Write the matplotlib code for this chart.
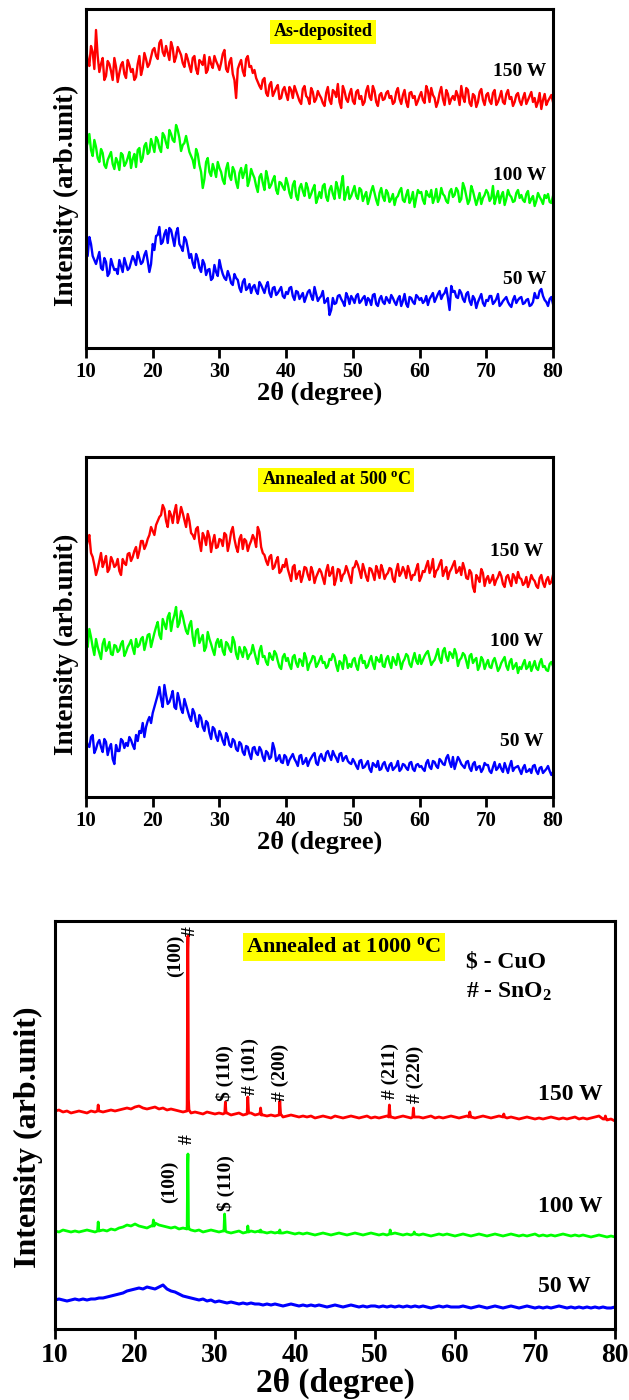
import numpy as np
import matplotlib
matplotlib.use('Agg')
import matplotlib.pyplot as plt

plt.rcParams['font.family'] = ['Liberation Serif', 'DejaVu Serif']
plt.rcParams['font.weight'] = 'bold'
plt.rcParams['mathtext.fontset'] = 'custom'
plt.rcParams['mathtext.rm'] = 'Liberation Serif:bold'
plt.rcParams['mathtext.bf'] = 'Liberation Serif:bold'
plt.rcParams['mathtext.it'] = 'Liberation Serif:bold:italic'

# ---------------- data ----------------
two_theta = np.arange(10, 80.01, 0.5)        # 10.0, 10.5, ... 80.0
two_theta_half = np.arange(10.25, 79.8, 0.5)  # 10.25, 10.75, ... 79.75
series_names = ['150 W', '100 W', '50 W']
series_colors = ['#ff0000', '#00ff00', '#0000ff']
xticks = [10, 20, 30, 40, 50, 60, 70, 80]

# As-deposited (arb. units)
asdep_150 = [300, 282, 296, 318, 276, 290, 272, 284, 268, 281, 275, 286, 270, 283, 279, 271, 292, 280, 289, 284, 298,
             292, 305, 296, 302, 288, 300, 291, 297, 285, 294,
             282, 290, 279, 288, 283, 275, 291, 280, 287, 278,
             294, 279, 286, 274, 250, 284, 277, 289, 281, 275,
             270, 262, 268, 255, 263, 252, 260, 249, 258, 254,
             261, 250, 257, 247, 259, 252, 244, 256, 249, 253,
             245, 255, 248, 258, 251, 246, 262, 249, 254, 247,
             256, 249, 243, 257, 251, 262, 246, 253, 248, 255,
             250, 244, 256, 249, 253, 246, 255, 250, 243, 252,
             248, 262, 246, 253, 241, 255, 249, 258, 244, 252,
             257, 243, 251, 260, 245, 254, 241, 256, 248, 253,
             247, 255, 243, 251, 246, 254, 249, 242, 253, 247,
             250, 244, 252, 246, 241, 255, 248, 243, 250, 246]
asdep_150_h = [288, 302, 279, 292, 284, 268, 287, 277, 290, 266, 283, 274, 288, 276, 268, 284, 273, 295, 281, 291,
               300, 289, 308, 292, 295, 306, 286, 301, 293, 281,
               289, 276, 292, 274, 286, 293, 278, 284, 292, 283,
               285, 298, 276, 290, 268, 279, 288, 272, 292, 282,
               278, 266, 259, 270, 252, 266, 256, 263, 250, 261,
               248, 258, 262, 252, 244, 262, 250, 260, 246, 257,
               250, 242, 261, 244, 256, 264, 240, 257, 246, 259,
               244, 258, 252, 246, 262, 248, 257, 242, 255, 249,
               257, 252, 246, 260, 244, 258, 241, 256, 252, 247,
               256, 245, 257, 260, 250, 246, 261, 243, 254, 249,
               248, 252, 262, 246, 258, 242, 252, 246, 259, 243,
               255, 244, 258, 246, 257, 244, 258, 251, 246, 255,
               243, 255, 248, 256, 250, 246, 239, 254, 247, 253]
asdep_100 = [200, 214, 192, 201, 186, 195, 180, 192, 184, 190, 178, 193, 185, 196, 189, 181, 200, 190, 205, 196, 203,
             211, 200, 215, 205, 218, 208, 223, 210, 203, 212,
             196, 188, 199, 183, 160, 186, 176, 184, 171, 180,
             168, 179, 172, 181, 166, 175, 170, 183, 168, 174,
             162, 171, 165, 177, 160, 168, 158, 166, 161, 170,
             155, 163, 152, 160, 157, 165, 150, 159, 145, 156,
             162, 151, 158, 154, 166, 150, 172, 155, 149, 157,
             152, 160, 147, 156, 150, 162, 148, 155, 151, 158,
             146, 154, 150, 157, 148, 153, 145, 156, 150, 155,
             148, 157, 151, 145, 159, 150, 154, 147, 156, 151,
             160, 146, 165, 152, 148, 157, 143, 155, 150, 158,
             147, 162, 151, 145, 156, 149, 153, 146, 155, 150,
             148, 154, 145, 152, 147, 151, 144, 150, 146, 152]
asdep_100_h = [205, 198, 208, 190, 199, 183, 188, 196, 179, 186, 195, 182, 190, 180, 194, 198, 186, 202, 194, 209,
               196, 208, 196, 212, 200, 214, 206, 218, 197, 205,
               204, 192, 180, 194, 176, 169, 190, 172, 178, 186,
               176, 164, 185, 168, 177, 160, 180, 176, 162, 179,
               170, 156, 174, 158, 170, 163, 172, 154, 165, 158,
               164, 150, 167, 148, 164, 152, 160, 154, 163, 150,
               150, 164, 147, 162, 149, 160, 163, 148, 161, 152,
               162, 149, 158, 152, 144, 157, 155, 143, 160, 147,
               155, 149, 143, 152, 160, 146, 158, 149, 141, 158,
               156, 144, 153, 158, 150, 146, 160, 152, 145, 159,
               153, 157, 149, 160, 144, 162, 150, 149, 144, 153,
               155, 150, 144, 157, 152, 143, 158, 151, 147, 158,
               153, 146, 157, 149, 142, 155, 148, 153, 154, 145]
asdep_50 = [100, 111, 92, 84, 96, 78, 86, 75, 83, 79, 88, 76, 84, 80, 92, 83, 90, 86, 97, 76, 104,
            112, 121, 106, 118, 120, 110, 115, 104, 97, 108,
            90, 85, 94, 80, 88, 73, 79, 70, 76, 88,
            74, 68, 72, 63, 70, 60, 66, 58, 64, 61,
            57, 66, 59, 62, 55, 60, 53, 58, 52, 56,
            60, 52, 57, 49, 55, 51, 58, 48, 54, 50,
            57, 47, 33, 50, 45, 53, 46, 55, 44, 49,
            52, 45, 50, 43, 48, 53, 44, 49, 46, 51,
            45, 50, 43, 52, 47, 44, 51, 46, 53, 48,
            45, 52, 49, 55, 50, 57, 53, 60, 38, 56,
            51, 58, 49, 54, 47, 52, 40, 50, 45, 48,
            52, 44, 49, 42, 47, 51, 43, 48, 45, 50,
            44, 48, 42, 46, 50, 57, 52, 46, 49, 44]
asdep_50_h = [92, 104, 88, 90, 80, 90, 72, 89, 78, 74, 82, 90, 78, 86, 88, 96, 84, 93, 87, 84,
              98, 113, 104, 114, 105, 118, 102, 120, 101, 111,
              100, 94, 80, 89, 76, 84, 78, 68, 83, 72,
              80, 70, 77, 65, 74, 68, 56, 69, 60, 55,
              63, 54, 63, 55, 66, 51, 61, 55, 61, 50,
              54, 61, 48, 56, 52, 46, 56, 52, 61, 47,
              52, 45, 50, 38, 44, 52, 49, 42, 51, 52,
              45, 54, 47, 52, 50, 43, 54, 42, 52, 44,
              48, 53, 46, 49, 42, 54, 41, 50, 44, 51,
              50, 47, 43, 52, 46, 54, 49, 55, 50, 62,
              57, 50, 55, 46, 56, 43, 49, 46, 54, 42,
              47, 52, 46, 54, 44, 49, 46, 41, 52, 48,
              51, 45, 49, 43, 55, 50, 59, 48, 42, 51]

# Annealed at 500 C
ann500_150 = [248, 262, 240, 222, 236, 230, 241, 228, 236, 232, 226, 238, 232, 244, 240, 250, 246, 256, 252, 262, 266,
              272, 280, 292, 276, 286, 274, 292, 280, 284, 270,
              276, 262, 268, 255, 264, 252, 260, 255, 249, 258,
              251, 262, 254, 270, 250, 258, 248, 256, 252, 262,
              250, 265, 244, 236, 240, 228, 236, 224, 232, 238,
              222, 230, 218, 226, 221, 229, 217, 225, 220, 228,
              219, 226, 221, 230, 218, 227, 222, 231, 220, 229,
              236, 226, 233, 220, 229, 223, 231, 219, 227, 222,
              229, 218, 226, 221, 230, 219, 225, 222, 228, 216,
              226, 231, 224, 238, 226, 233, 221, 230, 225, 232,
              224, 230, 234, 219, 227, 210, 222, 215, 224, 218,
              214, 222, 217, 225, 213, 220, 216, 223, 214, 219,
              212, 220, 215, 218, 211, 219, 214, 217, 213, 222]
ann500_150_h = [256, 244, 232, 228, 244, 235, 225, 240, 230, 238, 222, 234, 243, 236, 246, 239, 256, 248, 258, 270,
                262, 276, 282, 288, 270, 282, 285, 274, 290, 277,
                283, 264, 258, 270, 246, 260, 266, 245, 262, 250,
                257, 264, 246, 265, 258, 245, 262, 258, 246, 256,
                258, 270, 250, 242, 232, 242, 230, 240, 226, 230,
                228, 216, 232, 223, 215, 230, 222, 230, 214, 224,
                225, 213, 232, 224, 212, 228, 216, 224, 226, 214,
                230, 232, 219, 227, 216, 228, 217, 226, 232, 218,
                224, 228, 215, 233, 224, 226, 231, 217, 222, 233,
                220, 225, 236, 229, 220, 228, 237, 226, 218, 228,
                236, 226, 222, 228, 218, 224, 205, 219, 228, 211,
                221, 217, 212, 220, 221, 210, 222, 211, 220, 225,
                218, 214, 210, 222, 216, 209, 222, 210, 220, 215]
ann500_100 = [156, 168, 150, 158, 144, 153, 146, 155, 142, 151, 147, 156, 145, 153, 149, 158, 152, 160, 154, 163, 157,
              170, 162, 178, 168, 184, 176, 190, 174, 181, 166,
              172, 160, 166, 154, 162, 150, 158, 147, 154, 150,
              146, 155, 148, 160, 143, 150, 140, 147, 142, 152,
              138, 146, 140, 135, 144, 137, 143, 130, 140, 136,
              132, 140, 134, 138, 131, 139, 133, 141, 130, 137,
              134, 129, 138, 143, 132, 136, 128, 139, 133, 137,
              131, 138, 134, 129, 137, 133, 140, 135, 131, 138,
              134, 140, 132, 137, 135, 143, 133, 138, 136, 142,
              137, 144, 139, 135, 142, 138, 146, 140, 145, 139,
              143, 137, 144, 136, 141, 134, 139, 131, 137, 133,
              130, 136, 133, 129, 137, 131, 135, 128, 134, 130,
              133, 128, 135, 131, 129, 134, 130, 127, 133, 131]
ann500_100_h = [150, 160, 142, 150, 138, 158, 149, 143, 152, 145, 153, 141, 150, 157, 143, 150, 158, 147, 162, 150,
                164, 175, 158, 173, 180, 166, 182, 170, 186, 173,
                163, 176, 151, 168, 158, 146, 165, 153, 142, 158,
                157, 142, 153, 145, 155, 138, 145, 150, 138, 144,
                145, 133, 151, 141, 132, 140, 146, 136, 128, 143,
                139, 128, 142, 130, 136, 144, 127, 136, 140, 133,
                141, 135, 131, 137, 140, 126, 134, 142, 129, 130,
                139, 127, 142, 136, 131, 141, 128, 137, 142, 130,
                141, 129, 136, 143, 128, 138, 141, 130, 144, 133,
                133, 141, 146, 132, 137, 148, 134, 149, 136, 143,
                148, 131, 139, 142, 129, 143, 137, 127, 140, 128,
                137, 129, 139, 126, 134, 140, 127, 138, 131, 124,
                128, 137, 130, 126, 136, 127, 138, 131, 126, 135]
ann500_50 = [58, 50, 62, 48, 57, 45, 55, 49, 38, 52, 46, 56, 54, 60, 52, 62, 66, 74, 70, 80, 84,
             96, 110, 90, 102, 95, 106, 88, 97, 84, 92,
             80, 88, 74, 82, 70, 76, 64, 70, 60, 66,
             56, 64, 52, 58, 48, 55, 45, 51, 43, 49,
             44, 50, 40, 46, 38, 54, 36, 42, 34, 40,
             37, 43, 35, 41, 33, 39, 36, 42, 34, 40,
             38, 44, 41, 46, 39, 43, 36, 41, 34, 38,
             31, 36, 29, 33, 28, 34, 30, 27, 33, 29,
             32, 27, 31, 26, 33, 29, 34, 28, 32, 30,
             28, 34, 30, 36, 31, 38, 33, 39, 35, 40,
             34, 37, 31, 35, 29, 33, 27, 31, 28, 32,
             26, 30, 27, 33, 25, 29, 31, 26, 30, 27,
             29, 25, 28, 31, 26, 29, 24, 28, 26, 25]
ann500_50_h = [52, 60, 44, 54, 50, 58, 42, 53, 33, 46, 58, 49, 51, 57, 48, 56, 64, 60, 76, 74,
               90, 102, 98, 112, 93, 100, 90, 104, 88, 98,
               86, 76, 84, 70, 79, 66, 74, 58, 68, 56,
               62, 52, 60, 50, 56, 46, 53, 42, 50, 38,
               50, 42, 47, 36, 44, 40, 48, 38, 35, 42,
               32, 40, 38, 31, 42, 35, 31, 39, 44, 32,
               43, 36, 46, 37, 42, 35, 44, 39, 36, 33,
               35, 28, 37, 30, 36, 25, 32, 36, 28, 35,
               26, 34, 29, 36, 28, 32, 27, 35, 26, 33,
               31, 26, 37, 28, 35, 29, 36, 32, 42, 30,
               28, 40, 33, 29, 36, 26, 35, 30, 25, 34,
               32, 24, 35, 29, 28, 34, 24, 36, 29, 31,
               23, 32, 26, 24, 32, 23, 30, 26, 31, 22]

# Annealed at 1000 C: background on the grid + sharp peak points
ann1000_150_bg = [218, 219, 217, 218, 216, 217, 218, 217, 216, 218, 217, 218, 217, 218, 219, 218, 219, 220, 221, 220, 222,
                  223, 221, 220, 221, 222, 220, 221, 219, 220, 219,
                  218, 217, 218, 216, 217, 216, 215, 217, 216, 215,
                  216, 215, 216, 214, 215, 216, 214, 215, 216, 214,
                  215, 214, 213, 214, 213, 214, 212, 213, 214, 213,
                  212, 213, 212, 213, 211, 212, 213, 212, 211, 213,
                  212, 211, 212, 213, 212, 211, 212, 213, 211, 212,
                  211, 212, 213, 212, 211, 212, 213, 212, 211, 212,
                  212, 211, 212, 213, 211, 212, 211, 212, 213, 212,
                  211, 212, 213, 212, 211, 212, 213, 212, 211, 212,
                  213, 212, 211, 212, 211, 210, 211, 212, 211, 210,
                  211, 210, 211, 212, 211, 210, 211, 210, 211, 212,
                  210, 211, 210, 211, 212, 213, 210, 209, 210, 208]
ann1000_150_pk_x = [15.32, 15.4, 15.48, 26.52, 26.58, 26.62, 26.68, 26.75, 31.22, 31.3, 31.38,
                    34.02, 34.1, 34.2, 35.62, 35.7, 35.8, 38.02, 38.1, 38.2, 51.72, 51.8, 51.9,
                    54.72, 54.8, 54.88, 61.72, 61.85, 61.95, 66.02, 66.1, 66.2, 78.72, 78.8, 78.9]
ann1000_150_pk_y = [218, 224, 218, 225, 380, 393, 230, 219, 216, 227, 216,
                    216, 232, 216, 215, 221, 214, 214, 228, 215, 212, 224, 212,
                    212, 221, 212, 212, 217, 212, 212, 215, 212, 210, 213, 210]

ann1000_100_bg = [98, 97, 99, 98, 97, 98, 97, 98, 99, 98, 97, 98, 99, 98, 100, 99, 101, 102, 104, 103, 105,
                  103, 102, 101, 103, 106, 104, 103, 102, 101, 102,
                  100, 101, 100, 99, 98, 99, 97, 98, 99, 98,
                  97, 98, 97, 96, 97, 98, 96, 97, 98, 97,
                  98, 97, 96, 97, 96, 97, 96, 97, 96, 95,
                  96, 95, 96, 95, 94, 95, 96, 95, 94, 95,
                  96, 95, 94, 95, 96, 95, 94, 95, 96, 95,
                  94, 95, 94, 95, 96, 95, 94, 95, 94, 95,
                  94, 95, 94, 93, 94, 95, 94, 95, 94, 93,
                  94, 95, 94, 93, 94, 95, 94, 93, 94, 95,
                  94, 93, 94, 95, 94, 93, 94, 93, 94, 95,
                  93, 94, 93, 94, 93, 94, 95, 94, 93, 94,
                  93, 94, 93, 92, 93, 94, 93, 92, 93, 92]
ann1000_100_pk_x = [15.32, 15.4, 15.48, 22.22, 22.3, 22.4, 26.52, 26.58, 26.62, 26.68, 26.75,
                    31.12, 31.2, 31.3, 34.02, 34.1, 34.2, 35.62, 35.7, 35.8, 38.02, 38.1, 38.2,
                    51.82, 51.9, 51.98, 54.82, 54.9, 54.98]
ann1000_100_pk_y = [98, 107, 98, 103, 109, 103, 102, 165, 175, 104, 100,
                    98, 115, 98, 97, 103, 97, 97, 99, 97, 96, 99, 96,
                    95, 99, 95, 95, 97, 95]

ann1000_50_bg = [29, 30, 29, 28, 29, 30, 29, 30, 29, 30, 30, 31, 31, 32, 33, 34, 35, 36, 38, 39, 40,
                 41, 40, 42, 41, 40, 42, 44, 40, 38, 37,
                 35, 33, 32, 31, 30, 29, 30, 28, 29, 27,
                 28, 27, 26, 27, 26, 25, 26, 25, 26, 25,
                 25, 24, 25, 24, 25, 24, 23, 24, 25, 24,
                 23, 24, 23, 24, 23, 24, 23, 22, 23, 24,
                 23, 22, 23, 24, 23, 22, 23, 22, 23, 23,
                 22, 23, 22, 23, 22, 23, 22, 23, 22, 23,
                 22, 23, 22, 21, 22, 23, 22, 23, 22, 22,
                 22, 23, 22, 21, 22, 23, 22, 21, 22, 23,
                 22, 21, 22, 23, 22, 21, 22, 23, 22, 21,
                 22, 21, 22, 21, 22, 23, 22, 21, 22, 21,
                 22, 21, 22, 21, 22, 21, 22, 21, 21, 22]

# peak annotations (text, 2theta, bottom of text)
hkl_150_text = ['$ (110)', '# (101)', '# (200)', '# (211)', '# (220)']
hkl_150_x = [31.2, 34.4, 38.2, 51.9, 55.1]
hkl_150_y = [228, 234, 228, 230, 226]
hkl_100_text = ['$ (110)']
hkl_100_x = [31.4]
hkl_100_y = [118]

# ---------------- figure ----------------
fig = plt.figure(figsize=(6.29, 14.0), dpi=100)


def combine(x1, y1, x2, y2):
    xs = np.concatenate([np.asarray(x1, float), np.asarray(x2, float)])
    ys = np.concatenate([np.asarray(y1, float), np.asarray(y2, float)])
    o = np.argsort(xs, kind='stable')
    return xs[o], ys[o]


def style_axes(ax, ymax, tick_fs, lab_fs, ylab_fs, ylab_x, ylab_y):
    ax.set_xlim(10, 80)
    ax.set_ylim(0, ymax)
    ax.set_yticks([])
    ax.set_xticks(xticks)
    ax.set_xticklabels([str(t) for t in xticks], fontsize=tick_fs, fontweight='bold')
    ax.tick_params(axis='x', direction='out', length=7, width=2, pad=3)
    for s in ax.spines.values():
        s.set_linewidth(2.2)
    ax.set_xlabel('2\u03b8 (degree)', fontsize=lab_fs, fontweight='bold', labelpad=0)
    ax.text(ylab_x, ylab_y, 'Intensity (arb.unit)', transform=ax.transAxes, rotation=90,
            ha='center', va='center', fontsize=ylab_fs, fontweight='bold')


def title_box(ax, x, y, txt, fs):
    ax.text(x, y, txt, ha='center', va='center', fontsize=fs, fontweight='bold',
            bbox=dict(facecolor='#ffff00', edgecolor='none', pad=2.5))


# Panel 1: As-deposited
ax1 = fig.add_axes([86/629, (1400-348)/1400, 467/629, 339/1400])
for ys, yh, c in zip([asdep_150, asdep_100, asdep_50], [asdep_150_h, asdep_100_h, asdep_50_h], series_colors):
    xx, yy = combine(two_theta, ys, two_theta_half, yh)
    ax1.plot(xx, yy, color=c, lw=1.7)
style_axes(ax1, 339, 15, 19, 19.5, -0.041, 0.45)
for name, h in zip(series_names, [276, 173, 68]):
    ax1.text(79, h, name, ha='right', va='center', fontsize=14, fontweight='bold')
title_box(ax1, 45.5, 316, 'As-deposited', 13)

# Panel 2: Annealed at 500 C
ax2 = fig.add_axes([86/629, (1400-797)/1400, 467/629, 340/1400])
for ys, yh, c in zip([ann500_150, ann500_100, ann500_50], [ann500_150_h, ann500_100_h, ann500_50_h], series_colors):
    xx, yy = combine(two_theta, ys, two_theta_half, yh)
    ax2.plot(xx, yy, color=c, lw=1.7)
style_axes(ax2, 340, 15, 19, 19.5, -0.041, 0.45)
for name, h in zip(series_names, [245, 155, 55]):
    ax2.text(78.6, h, name, ha='right', va='center', fontsize=14, fontweight='bold')
title_box(ax2, 47.5, 317, 'Annealed at 500 $^{\\mathbf{o}}$C', 13)

# Panel 3: Annealed at 1000 C
ax3 = fig.add_axes([55/629, (1400-1329)/1400, 560/629, 408/1400])
x150, y150 = combine(two_theta, ann1000_150_bg, ann1000_150_pk_x, ann1000_150_pk_y)
x100, y100 = combine(two_theta, ann1000_100_bg, ann1000_100_pk_x, ann1000_100_pk_y)
ax3.plot(x150, y150, color=series_colors[0], lw=2.0)
ax3.plot(x100, y100, color=series_colors[1], lw=2.0)
ax3.plot(two_theta, ann1000_50_bg, color=series_colors[2], lw=2.2)
style_axes(ax3, 408, 20, 24, 23, -0.048, 0.47)
for name, xr, h in zip(series_names, [78.5, 78.5, 77.0], [235, 123, 43]):
    ax3.text(xr, h, name, ha='right', va='center', fontsize=17, fontweight='bold')
title_box(ax3, 46.1, 382, 'Annealed at 1000 $^{\\mathbf{o}}$C', 16)
ax3.text(61.4, 367, '$ - CuO', ha='left', va='center', fontsize=17, fontweight='bold')
ax3.text(61.4, 337, '# - SnO$_{\\mathbf{2}}$', ha='left', va='center', fontsize=17, fontweight='bold')

# hkl labels
ax3.text(25.1, 373, '(100)', rotation=90, ha='center', va='center', fontsize=14, fontweight='bold')
ax3.text(26.9, 398, '#', rotation=90, ha='center', va='center', fontsize=14, fontweight='bold')
for t, x, y in zip(hkl_150_text, hkl_150_x, hkl_150_y):
    ax3.text(x, y, t, rotation=90, ha='center', va='bottom', fontsize=14, fontweight='bold')
ax3.text(24.35, 147, '(100)', rotation=90, ha='center', va='center', fontsize=14, fontweight='bold')
ax3.text(26.5, 190, '#', rotation=90, ha='center', va='center', fontsize=14, fontweight='bold')
for t, x, y in zip(hkl_100_text, hkl_100_x, hkl_100_y):
    ax3.text(x, y, t, rotation=90, ha='center', va='bottom', fontsize=14, fontweight='bold')

fig.savefig('out.png', dpi=100)
